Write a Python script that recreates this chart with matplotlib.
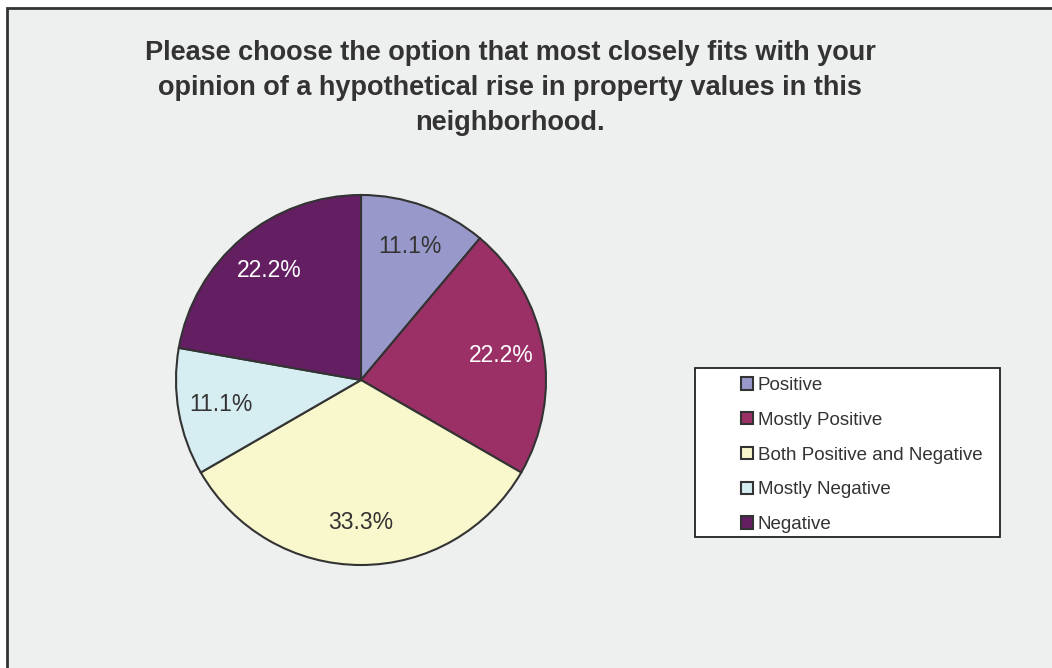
import matplotlib
matplotlib.use("Agg")
import matplotlib.pyplot as plt
from matplotlib.patches import Rectangle

plt.rcParams['font.family'] = ['Liberation Sans', 'DejaVu Sans']

# survey answers (counts) and their display colors
answers = ["Positive", "Mostly Positive", "Both Positive and Negative",
           "Mostly Negative", "Negative"]
counts = [1, 2, 3, 1, 2]
colors = ["#9898CA", "#9A3066", "#F9F8CD", "#D6EDF2", "#631F62"]
dark = ["#9A3066", "#631F62"]

title = ("Please choose the option that most closely fits with your\n"
         "opinion of a hypothetical rise in property values in this\n"
         "neighborhood.")

W, H = 1052, 668
fig = plt.figure(figsize=(W / 100, H / 100), dpi=100)
fig.patch.set_facecolor("white")

# grey chart area with dark frame (runs off the right/bottom edges)
frame = Rectangle((7 / W, -0.05), 1.1, 1 - 8 / H + 0.05,
                  transform=fig.transFigure, facecolor="#EEF0EF",
                  edgecolor="#333333", linewidth=2, zorder=-5)
fig.patches.append(frame)

fig.text(510 / W, 1 - 88 / H, title, ha="center", va="center",
         fontsize=19.5, fontweight="bold", color="#333333",
         linespacing=1.45)

ax = fig.add_axes([176 / W, 103 / H, 370 / W, 370 / H])
ax.set_facecolor("none")
wedges, texts, autotexts = ax.pie(
    counts, colors=colors, startangle=90, counterclock=False,
    autopct="%1.1f%%", pctdistance=0.77,
    wedgeprops=dict(edgecolor="#333333", linewidth=1.5),
    textprops=dict(fontsize=16.5),
)
for t, c in zip(autotexts, colors):
    t.set_color("white" if c in dark else "#333333")
ax.set_xlim(-1, 1)
ax.set_ylim(-1, 1)
ax.set_aspect("equal")

# legend box
box = Rectangle((695 / W, 1 - 537 / H), 305 / W, 169 / H,
                transform=fig.transFigure, facecolor="white",
                edgecolor="#222222", linewidth=1.3, zorder=1)
fig.patches.append(box)

leg = fig.legend(wedges, answers, loc="upper left",
                 bbox_to_anchor=(741 / W, 1 - 377 / H),
                 frameon=False, fontsize=13.5,
                 handlelength=0.65, handleheight=0.65,
                 handletextpad=0.25, labelspacing=0.95,
                 borderpad=0, borderaxespad=0)
leg.set_zorder(2)
for txt in leg.get_texts():
    txt.set_color("#333333")

fig.savefig("out.png", dpi=100)
